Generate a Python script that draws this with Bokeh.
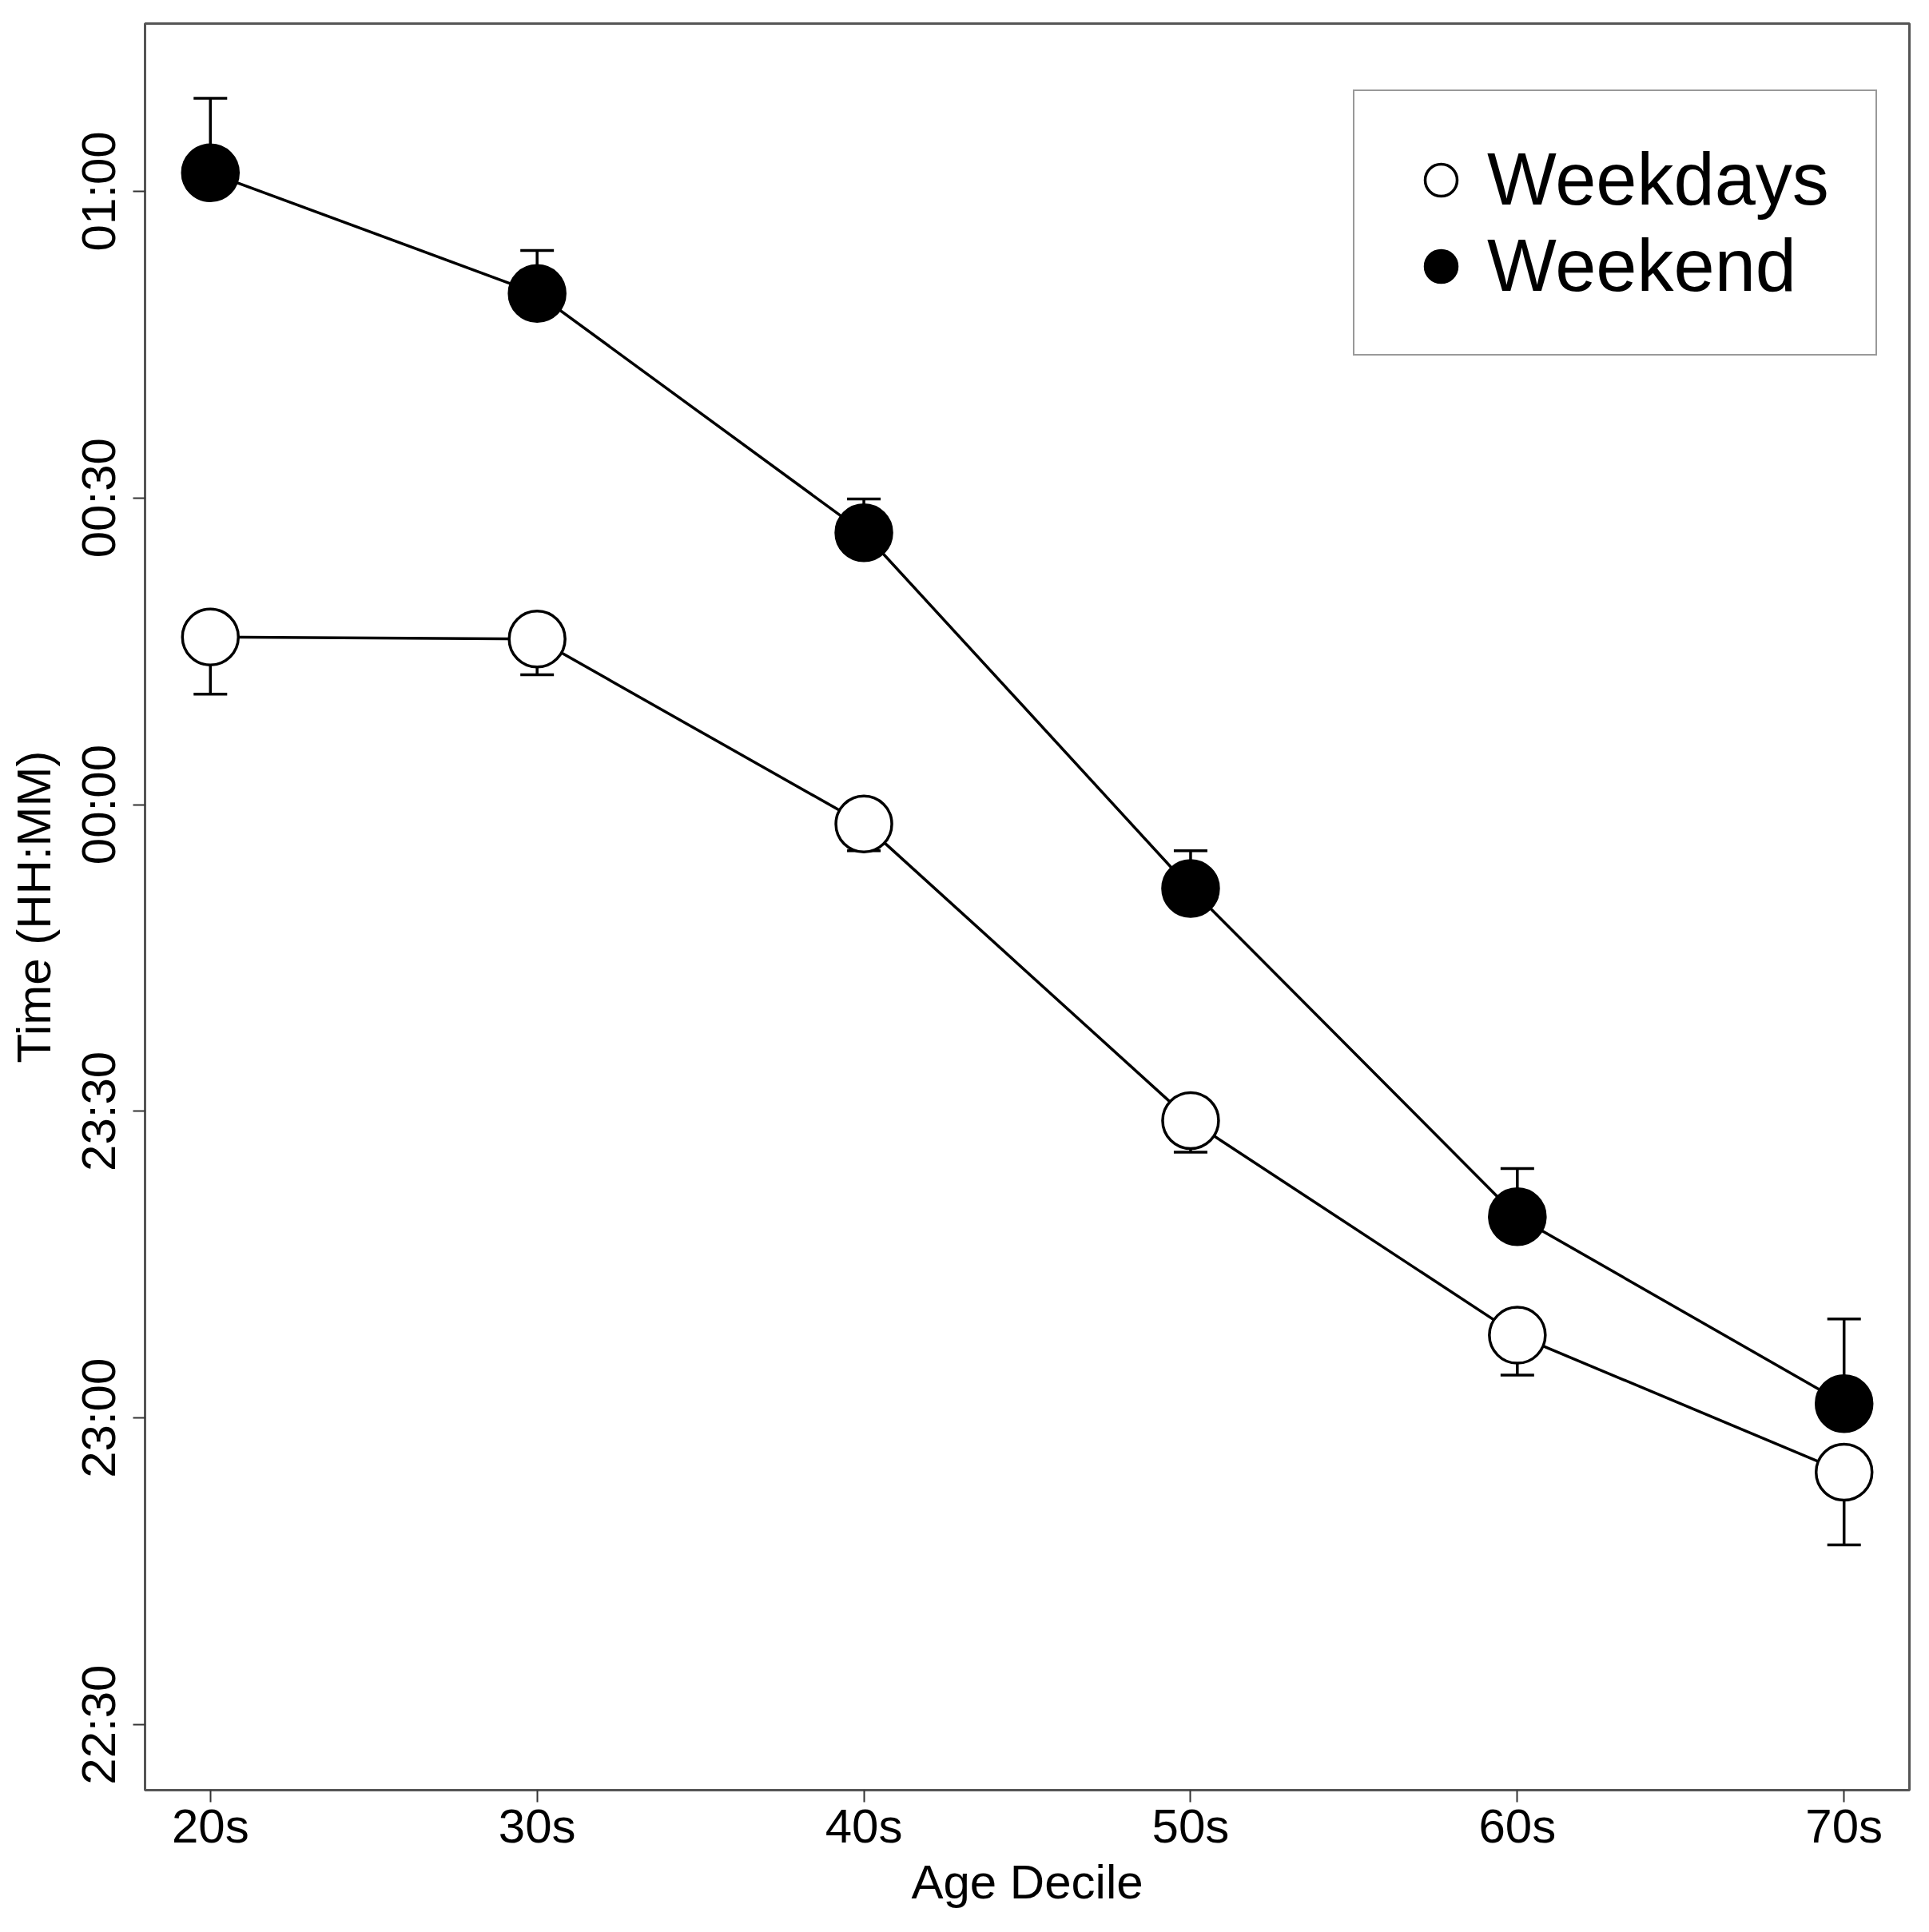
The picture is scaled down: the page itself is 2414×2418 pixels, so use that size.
from bokeh.plotting import figure
from bokeh.models import (ColumnDataSource, FixedTicker, Range1d, Whisker, TeeHead,
                          Legend, LegendItem)
from bokeh.embed import file_html
from bokeh.resources import INLINE

# ---- data (minutes relative to midnight) ----
age_labels = ["20s", "30s", "40s", "50s", "60s", "70s"]
age_pos = [1, 2, 3, 4, 5, 6]
weekend = [61.8, 50.0, 26.6, -8.2, -40.3, -58.6]
weekend_upper = [69.1, 54.2, 29.9, -4.5, -35.6, -50.3]
weekdays = [16.4, 16.2, -1.9, -30.9, -51.9, -65.3]
weekdays_lower = [10.8, 12.7, -4.5, -34.0, -55.8, -72.4]
y_ticks = [-90, -60, -30, 0, 30, 60]
y_tick_labels = ["22:30", "23:00", "23:30", "00:00", "00:30", "01:00"]

FONT = "Liberation Sans"

src_we = ColumnDataSource(dict(x=age_pos, y=weekend, up=weekend_upper))
src_wd = ColumnDataSource(dict(x=age_pos, y=weekdays, lo=weekdays_lower))

p = figure(width=2398, height=2402, output_backend="svg", toolbar_location=None,
           x_range=Range1d(0.8, 6.2), y_range=Range1d(-96.4, 76.4),
           min_border_left=181, min_border_right=9, min_border_top=29,
           min_border_bottom=162)
p.background_fill_color = "white"
p.border_fill_color = "white"
p.grid.visible = False
p.outline_line_color = "#555555"
p.outline_line_width = 3

# lines
p.line("x", "y", source=src_we, line_color="black", line_width=3.5)
p.line("x", "y", source=src_wd, line_color="black", line_width=3.5)

# markers
r_wd = p.scatter("x", "y", source=src_wd, size=70, marker="circle",
                 fill_color="white", line_color="black", line_width=3.5)
r_we = p.scatter("x", "y", source=src_we, size=70, marker="circle",
                 fill_color="black", line_color="black", line_width=3.5)

# error bars (one-sided)
w_we = Whisker(source=src_we, base="x", lower="y", upper="up", dimension="height",
               line_color="black", line_width=3.5,
               upper_head=TeeHead(size=42, line_color="black", line_width=3.5),
               lower_head=None)
w_wd = Whisker(source=src_wd, base="x", lower="lo", upper="y", dimension="height",
               line_color="black", line_width=3.5,
               lower_head=TeeHead(size=42, line_color="black", line_width=3.5),
               upper_head=None)
p.add_layout(w_we)
p.add_layout(w_wd)

# axes
for ax in (p.xaxis[0], p.yaxis[0]):
    ax.axis_line_color = None
    ax.major_tick_line_color = "#333333"
    ax.major_tick_line_width = 2
    ax.major_tick_out = 15
    ax.major_tick_in = 0
    ax.minor_tick_line_color = None
    ax.major_label_text_font = FONT
    ax.major_label_text_font_size = "60px"
    ax.major_label_text_color = "black"
    ax.axis_label_text_font = FONT
    ax.axis_label_text_font_size = "60px"
    ax.axis_label_text_font_style = "normal"
    ax.axis_label_text_color = "black"

p.xaxis.ticker = FixedTicker(ticks=age_pos)
p.xaxis.major_label_overrides = {k: v for k, v in zip(age_pos, age_labels)}
p.xaxis.axis_label = "Age Decile"
p.xaxis.major_label_standoff = -4
p.xaxis.axis_label_standoff = 0

p.yaxis.ticker = FixedTicker(ticks=y_ticks)
p.yaxis.major_label_overrides = {k: v for k, v in zip(y_ticks, y_tick_labels)}
p.yaxis.major_label_orientation = "vertical"
p.yaxis.axis_label = "Time (HH:MM)"
p.yaxis.major_label_standoff = 9
p.yaxis.axis_label_standoff = 12

# legend
legend = Legend(items=[LegendItem(label="Weekdays", renderers=[r_wd]),
                       LegendItem(label="Weekend", renderers=[r_we])],
                location=(1512, 1795), margin=0, padding=58, spacing=3,
                glyph_width=100, glyph_height=100, label_standoff=8,
                label_text_font=FONT, label_text_font_size="92px",
                label_text_color="black",
                border_line_color="#333333", border_line_width=2,
                background_fill_color="white", background_fill_alpha=1.0)
p.add_layout(legend)

open("out.html", "w").write(file_html(p, INLINE))
